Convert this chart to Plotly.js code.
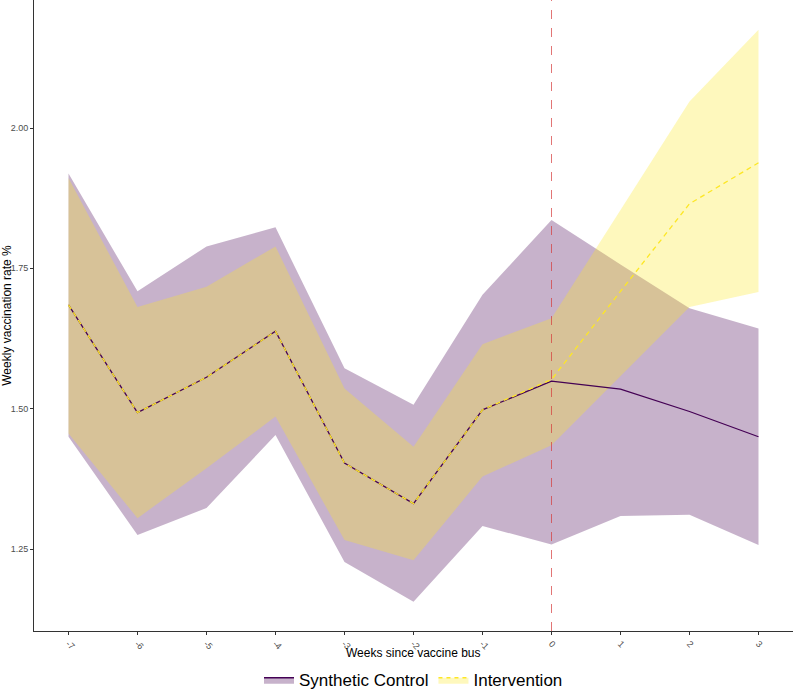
<!DOCTYPE html>
<html>
<head>
<meta charset="utf-8">
<script src="https://cdn.plot.ly/plotly-3.0.1.min.js"></script>
<style>
  html, body { margin: 0; padding: 0; background: #ffffff; }
  #chart { width: 794px; height: 690px; }
</style>
</head>
<body>
<div id="chart"></div>
<script>
// Weeks since vaccine bus
const weeks = [-7, -6, -5, -4, -3, -2, -1, 0, 1, 2, 3];

// Synthetic control
const synthMean  = [1.685, 1.493, 1.556, 1.638, 1.403, 1.331, 1.498, 1.549, 1.535, 1.495, 1.450];
const synthLower = [1.450, 1.275, 1.323, 1.453, 1.227, 1.156, 1.291, 1.258, 1.309, 1.311, 1.257];
const synthUpper = [1.919, 1.709, 1.789, 1.823, 1.572, 1.507, 1.703, 1.836, 1.757, 1.679, 1.643];

// Intervention
const intMean  = [1.685, 1.493, 1.556, 1.638, 1.403, 1.331, 1.498, 1.552, 1.709, 1.865, 1.938];
const intLower = [1.456, 1.305, 1.394, 1.486, 1.266, 1.230, 1.379, 1.435, 1.558, 1.681, 1.708];
const intUpper = [1.911, 1.681, 1.717, 1.789, 1.536, 1.432, 1.615, 1.661, 1.854, 2.047, 2.175];

const yTicks = [1.25, 1.50, 1.75, 2.00];
const seriesNames = ["Synthetic Control", "Intervention"];
const xTitle = "Weeks since vaccine bus";
const yTitle = "Weekly vaccination rate %";
const interventionWeek = 0;

const purple = "#440154";
const yellow = "#FDE725";
const purpleFill = "rgba(68,1,84,0.3)";
const yellowFill = "rgba(253,231,37,0.3)";

function band(lower, upper, color) {
  return {
    x: weeks.concat(weeks.slice().reverse()),
    y: upper.concat(lower.slice().reverse()),
    type: "scatter", mode: "lines", fill: "toself",
    fillcolor: color, line: {width: 0}, showlegend: false, hoverinfo: "skip"
  };
}

const traces = [
  band(synthLower, synthUpper, purpleFill),
  band(intLower, intUpper, yellowFill),
  {x: weeks, y: synthMean, type: "scatter", mode: "lines",
   line: {color: purple, width: 1.3}, showlegend: false},
  {x: weeks, y: intMean, type: "scatter", mode: "lines",
   line: {color: yellow, width: 1.3, dash: "5px,4px"}, showlegend: false},
  // legend entries
  {x: [null], y: [null], type: "scatter", mode: "lines", fill: "toself",
   fillcolor: purpleFill, line: {color: purple, width: 1.3}, name: seriesNames[0]},
  {x: [null], y: [null], type: "scatter", mode: "lines", fill: "toself",
   fillcolor: yellowFill, line: {color: yellow, width: 1.3, dash: "4px,4px"}, name: seriesNames[1]}
];

const layout = {
  width: 794, height: 690,
  margin: {l: 34, r: 1, t: 0, b: 59, autoexpand: false},
  paper_bgcolor: "#ffffff", plot_bgcolor: "#ffffff",
  font: {family: "Liberation Sans, Arial, sans-serif", color: "#000"},
  showlegend: true,
  legend: {
    orientation: "h", x: 0.5, xanchor: "center", y: -0.078, yanchor: "middle",
    font: {size: 17, color: "#000"}, traceorder: "normal", itemwidth: 30
  },
  xaxis: {
    range: [-7.5, 3.5], tickmode: "array", tickvals: weeks, ticktext: weeks.map(String),
    tickangle: 45, tickfont: {size: 9, color: "#4d4d4d"},
    showgrid: false, zeroline: false, showline: true, linecolor: "#333", linewidth: 1,
    ticks: "outside", ticklen: 3, tickcolor: "#333",
    automargin: false
  },
  yaxis: {
    range: [1.104, 2.228], tickmode: "array", tickvals: yTicks,
    ticktext: yTicks.map(v => v.toFixed(2)),
    tickfont: {size: 9, color: "#4d4d4d"},
    showgrid: false, zeroline: false, showline: true, linecolor: "#333", linewidth: 1,
    ticks: "outside", ticklen: 3, tickcolor: "#333",
    title: {text: yTitle, font: {size: 12, color: "#000"}, standoff: 3},
    automargin: false
  },
  annotations: [{
    text: xTitle, xref: "paper", yref: "paper", x: 0.5, y: -0.035,
    xanchor: "center", yanchor: "middle", showarrow: false,
    font: {size: 12, color: "#000"}
  }],
  shapes: [{
    type: "line", xref: "x", yref: "paper", x0: interventionWeek, x1: interventionWeek, y0: 0, y1: 1,
    line: {color: "#d63a3a", width: 0.7, dash: "dash"}
  }]
};

Plotly.newPlot("chart", traces, layout, {displayModeBar: false, staticPlot: true});
</script>
</body>
</html>
